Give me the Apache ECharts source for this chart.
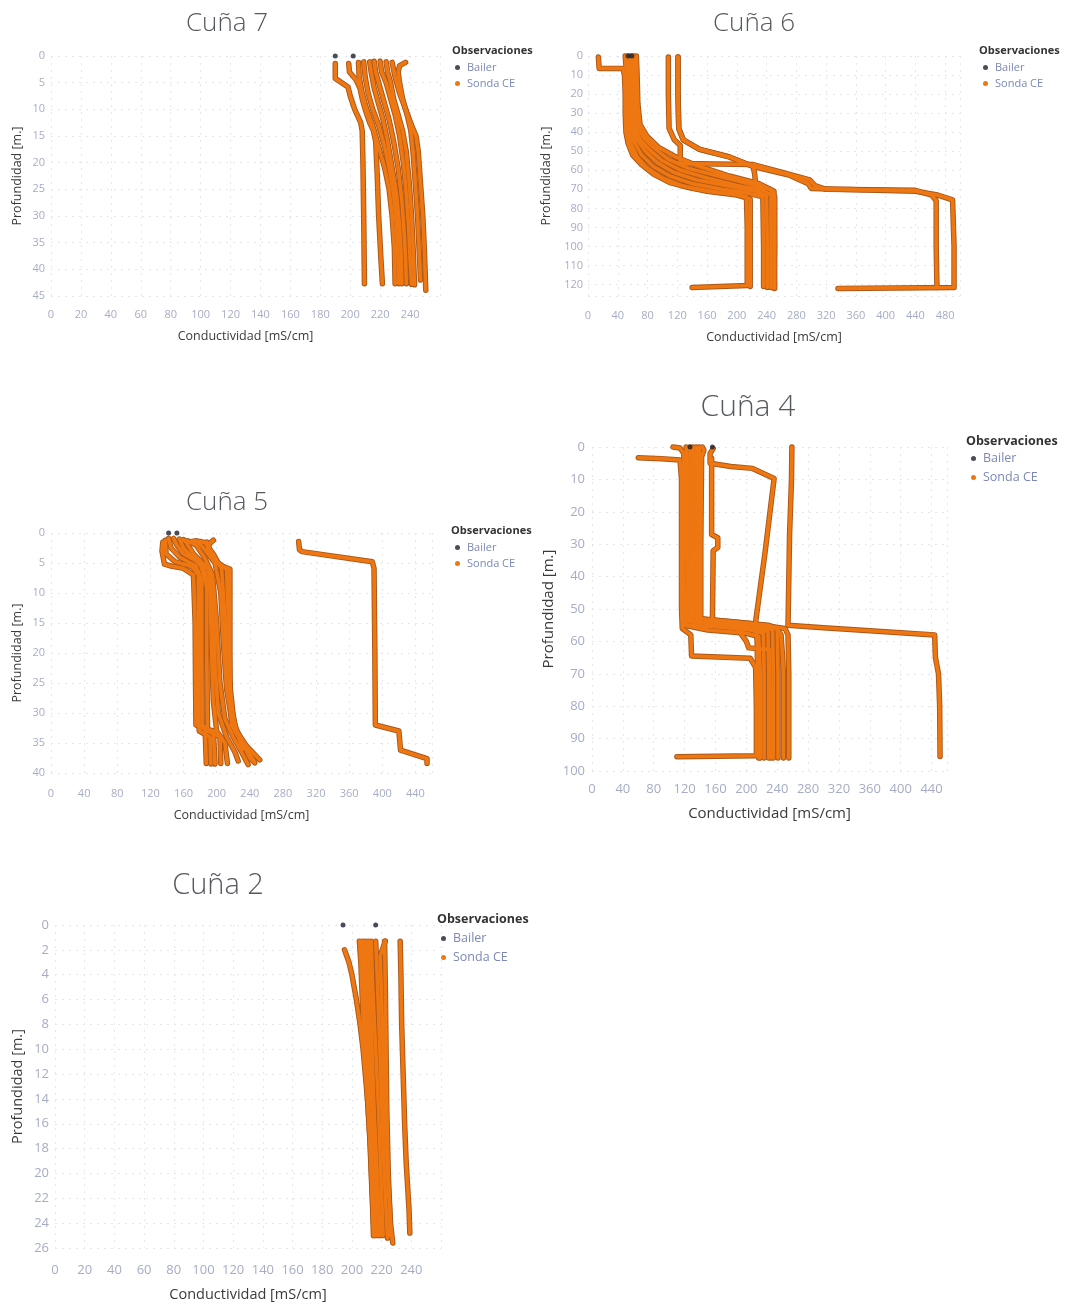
<!DOCTYPE html>
<html>
<head>
<meta charset="utf-8">
<script src="https://cdn.jsdelivr.net/npm/echarts@6/dist/echarts.min.js"></script>
<style>
  html, body { margin: 0; padding: 0; background: #ffffff; }
  #chart { width: 1065px; height: 1306px; }
</style>
</head>
<body>
<div id="chart"></div>
<script>
// Perfiles de conductividad eléctrica por cuña: cada perfil es una lista de
// pares [conductividad mS/cm, profundidad m].

// ---- Cuña 7 ----
const cuna7Bailer = [[190, 0], [202, 0]];
const cuna7Sonda = [
  [[190,1.4],[190,4.2],[198.5,5.8],[200,7.5],[203,10],[207,12.5],[208,14],[208.5,20],[209,30],[209.5,42.7]],
  [[199,1.4],[199.5,3],[204,4.5],[206.5,6],[208,8],[210,10],[213,12.5],[215.5,14],[217,16],[218,22],[219,30],[220.5,38],[221.5,42.7]],
  [[205.5,1.2],[206,4],[208,7],[211,10],[215,13],[219,17],[223,21],[226,25],[228,30],[229.5,36],[230,42.7]],
  [[209,1.1],[210,4],[212,7],[215,10],[219,13],[223,17],[226,21],[229,26],[231,32],[232,38],[232.5,42.7]],
  [[213,1.1],[214,3],[216,6],[219,9],[222,12],[225,16],[228,21],[231,26],[233,32],[234,37],[234.5,42.7]],
  [[216,1.0],[217,3],[220,6],[223,9],[226,12],[229,16],[232,21],[234.5,27],[236,33],[237,38],[237.5,42.7]],
  [[220,1.0],[221,3],[224,5],[227,8],[230,11],[233,15],[235.5,20],[237.5,26],[239,32],[240,38],[241,42.8]],
  [[224,1.1],[225,3],[227,5],[229,8],[232,11],[235,14],[237.5,18],[239.5,24],[241,30],[242,36],[243,42.9]],
  [[237,1.2],[233,1.8],[232,3],[233,5],[235,8],[238,11],[240.5,14],[242,18],[243.5,24],[245,30],[246,36],[247,42]],
  [[228,1.2],[230,4],[233,7],[237,10],[241,13],[244,15],[245.5,18],[247,24],[248.5,30],[249.5,36],[250.5,43.9]]
];

// ---- Cuña 6 ----
const cuna6Bailer = [[54, 0], [59, 0]];
const cuna6Sonda = [
  [[14,0.5],[15,6.5],[47,6.5],[49,10],[50,20],[50,30],[51,40],[54,46],[60,52],[72,57],[88,62],[110,66.5],[140,69.5],[175,71.5],[200,72.5],[213,74],[214,90],[214,110],[214,120.5],[140,121.5]],
  [[50,0],[52,10],[53,25],[54,38],[58,46],[66,53],[80,59],[100,64],[125,68],[160,71],[200,73],[218,75],[218,100],[218,121]],
  [[53,0],[55,10],[56,25],[58,38],[62,45],[72,52],[88,58],[110,63],[140,67],[180,70],[215,72],[235,74],[236,100],[236,121]],
  [[56,0],[58,10],[59,25],[61,38],[66,44],[77,50],[93,56],[115,61],[145,65],[185,68],[225,71],[240,73.5],[241,100],[241,121.5]],
  [[59,0],[61,10],[62,25],[64,38],[70,44],[82,49],[100,55],[125,60],[160,64],[200,68],[235,70.5],[246,73],[246,100],[246,121.5]],
  [[62,0],[64,10],[65,25],[67,37],[75,43],[88,48],[107,54],[135,59],[175,63],[215,67],[245,70],[251,74],[251,100],[250,122]],
  [[65,0],[66,10],[67,25],[70,36],[79,42],[95,48],[118,53],[150,58],[190,63],[230,67],[250,71],[251,122]],
  [[108,0.5],[108,20],[109,38],[116,44],[124,47],[124,56.5],[222,57],[260,61],[298,65],[305,68],[320,70],[440,70.5],[462,73],[468,76],[468,100],[469,121.5]],
  [[121,0.5],[121,20],[122,38],[128,44],[150,49],[190,53],[222,58],[224,62],[226,70]],
  [[121,0.5],[121,20],[122,38],[128,44],[150,49],[190,53],[222,58],[270,62.5],[296,67],[300,69.5],[440,71],[470,73],[490,75.5],[492,100],[492,121.5],[336,122]]
];

// ---- Cuña 5 ----
const cuna5Bailer = [[142, 0], [152, 0]];
const cuna5Sonda = [
  [[135,1.5],[134,3],[137,5.2],[145,5.5],[160,5.9],[172,7],[174,15],[174.5,25],[175,32],[186,32.3],[187,36.5],[187.5,38.4]],
  [[138,1.2],[139,3.5],[150,4.8],[170,5.6],[178,7],[178,20],[178.5,32],[179,33],[192,34],[193,38.5]],
  [[142,0.9],[145,2.5],[155,4],[175,5.5],[182,8],[182,20],[182.5,32.5],[196,33],[198,38.5]],
  [[148,0.9],[152,2],[160,3.5],[180,5],[188,9],[188,20],[189,33],[204,34],[205,38.4]],
  [[155,1.0],[160,2.5],[170,4],[185,6],[192,10],[194,20],[196,28],[200,33],[210,35],[213,38.4]],
  [[160,1.1],[163,1.5],[172,3.5],[190,6],[196,12],[198,22],[202,30],[212,34],[222,36.5],[226,38]],
  [[165,1.3],[175,2],[185,4],[195,7],[200,15],[204,25],[210,31],[220,34],[232,37],[238,38.6]],
  [[170,1.4],[176,1.3],[184,2.5],[198,5],[205,10],[208,18],[212,26],[218,31],[228,34],[240,37.5],[246,38.3]],
  [[180,1.4],[186,1.6],[196,3.5],[206,6],[210,14],[212,22],[216,28],[224,33],[236,35.5],[252,37.8]],
  [[188,1.5],[190,3],[200,5],[208,5.6],[216,6],[216,20],[216.5,28],[218,32],[226,34],[230,35.5],[232,36]],
  [[196,1.2],[191,1.8],[190,3],[200,4.8],[212,6],[214,14],[215,24],[222,33],[236,36],[245,38]],
  [[299,1.4],[300,2.8],[303,3.1],[388,4.8],[390,5.9],[391,20],[391.6,32],[420,33],[422,36.2],[454,37.6],[454,38.4]]
];

// ---- Cuña 4 ----
const cuna4Bailer = [[127, 0], [156, 0]];
const cuna4Sonda = [
  [[60,3.3],[90,3.6],[114,4],[116,10],[116,30],[116,50],[117,56],[128,58],[129,64.5],[180,65],[205,65.2],[212,68],[213,80],[213,95.3],[110,95.6]],
  [[105,0],[114,0.3],[119,2],[119,20],[119,40],[120,55],[150,56.5],[200,57.5],[216,58.5],[218,70],[218,96]],
  [[122,0],[123,5],[123,30],[124,55],[160,55.5],[205,56.5],[222,57.5],[223,70],[223,96]],
  [[127,0],[127,10],[127,30],[128,54],[165,54.8],[212,55.8],[228,57],[229,70],[229,96]],
  [[131,0],[131,10],[131,30],[132,53.5],[175,54.5],[220,55.5],[234,56.5],[235,70],[235,96]],
  [[135,0],[135,10],[135,30],[136,53],[185,54],[228,55],[240,56],[241,70],[241,96]],
  [[139,0],[139,10],[139,30],[139,53.5],[195,54.5],[238,55.8],[245,58],[247,65],[248,70],[248,96]],
  [[143,0],[145,1],[142,3],[141,30],[141,53],[205,54.5],[250,56],[254,58],[255,70],[255,96]],
  [[157,0.5],[153,2],[153,5],[180,6],[208,6.6],[236,9.7],[224,33],[212,54],[214,60],[216,96]],
  [[155,3.5],[155,27],[163,28],[163,31],[157,32],[156,54],[185,55],[200,60],[203,62],[230,62.5],[232,96]],
  [[259,0],[258.5,10],[256,27],[254,55],[300,55.8],[380,57],[444,58],[445,65],[449,70],[450.5,80],[451,95.5]]
];

// ---- Cuña 2 ----
const cuna2Bailer = [[194, 0], [216, 0]];
const cuna2Sonda = [
  [[195,2.0],[198,3],[200,4],[203,6],[205.5,8],[207.5,10],[209,12],[210.5,14],[212,17],[213,20],[214,23],[214.5,25]],
  [[205,1.3],[206,3],[207,6],[208,9],[209.5,12],[211,15],[212.5,18],[213.5,21],[215,25]],
  [[207,1.3],[208,4],[209,8],[210.5,12],[212,16],[214,20],[216,25]],
  [[209,1.3],[210,5],[211.5,10],[213,14],[215,18],[217,22],[218,25]],
  [[211,1.3],[212,5],[213.5,10],[215,15],[217,20],[219,25]],
  [[213,1.3],[214,5],[216,10],[218,15],[219.5,20],[221,25]],
  [[216,1.3],[217,4],[218.5,9],[220,14],[221.5,19],[223,23],[224,25.2]],
  [[222.5,1.3],[219,2.5],[220,6],[221,10],[222,14],[223,17],[224,20],[225,22],[226,24],[227.5,25.6]],
  [[222,1.3],[222.5,5],[223,10],[223.5,15],[224.5,20],[225.5,23],[226,25]],
  [[232.5,1.3],[233,4],[233.5,8],[234.5,12],[235.5,16],[236.5,19],[237.5,21],[238.5,23],[239,24.8]]
];

// ---- Disposición de los paneles ----
const panels = [
  { title: 'Cuña 7', sonda: cuna7Sonda, bailer: cuna7Bailer,
    box: { left: 51, top: 56, width: 389, height: 240 },
    xMax: 260, xInt: 20, yMax: 45, yInt: 5, yShowMax: true,
    titleX: 222, titleTop: 6, titleSize: 26,
    fs: 11, nameFs: 12.5, xMargin: 13, yMargin: 6, xGap: 34, yGap: 27,
    obs: { left: 447, top: 40, fs: 11 }, leg: { left: 450, top: 57, gap: 5 } },
  { title: 'Cuña 6', sonda: cuna6Sonda, bailer: cuna6Bailer,
    box: { left: 588, top: 56, width: 372, height: 240 },
    xMax: 500, xInt: 40, yMax: 126, yInt: 10, yShowMax: false,
    titleX: 749, titleTop: 6, titleSize: 26,
    fs: 11, nameFs: 12.5, xMargin: 14, yMargin: 5, xGap: 35, yGap: 35,
    obs: { left: 974, top: 40, fs: 11 }, leg: { left: 978, top: 57, gap: 5 } },
  { title: 'Cuña 5', sonda: cuna5Sonda, bailer: cuna5Bailer,
    box: { left: 51, top: 533, width: 381, height: 240 },
    xMax: 460, xInt: 40, yMax: 40, yInt: 5, yShowMax: true,
    titleX: 222, titleTop: 485, titleSize: 26,
    fs: 11, nameFs: 12.5, xMargin: 15, yMargin: 6, xGap: 36, yGap: 27,
    obs: { left: 446, top: 520, fs: 11 }, leg: { left: 450, top: 537, gap: 5 } },
  { title: 'Cuña 4', sonda: cuna4Sonda, bailer: cuna4Bailer,
    box: { left: 592, top: 447, width: 355, height: 324 },
    xMax: 460, xInt: 40, yMax: 100, yInt: 10, yShowMax: true,
    titleX: 743, titleTop: 387, titleSize: 30,
    fs: 13, nameFs: 15, xMargin: 12, yMargin: 7, xGap: 35, yGap: 36,
    obs: { left: 961, top: 430, fs: 12.5 }, leg: { left: 966, top: 447, gap: 6 } },
  { title: 'Cuña 2', sonda: cuna2Sonda, bailer: cuna2Bailer,
    box: { left: 55, top: 925, width: 386, height: 323 },
    xMax: 260, xInt: 20, yMax: 26, yInt: 2, yShowMax: true,
    titleX: 213, titleTop: 866, titleSize: 29,
    fs: 13, nameFs: 14.5, xMargin: 16, yMargin: 6, xGap: 39, yGap: 30,
    obs: { left: 432, top: 908, fs: 12.5 }, leg: { left: 436, top: 927, gap: 6 } }
];

const ORANGE = '#ef7712';
const EDGE = '#a9581a';
const BAILER = '#1c2030';
const TICK = '#a6acc6';
const LEGEND_TEXT = '#7d88b6';
const AXIS_NAME = '#3a3a3a';
const FONT = '"Open Sans", "Noto Sans", sans-serif';

const option = {
  animation: false,
  backgroundColor: '#ffffff',
  textStyle: { fontFamily: FONT },
  title: [], grid: [], xAxis: [], yAxis: [], legend: [], series: []
};

panels.forEach((p, i) => {
  option.title.push({
    text: p.title, left: p.titleX, top: p.titleTop, textAlign: 'center',
    textStyle: { fontFamily: FONT, fontSize: p.titleSize, fontWeight: 300, color: '#555a60' }
  });
  option.title.push({
    text: 'Observaciones', left: p.obs.left, top: p.obs.top,
    textStyle: { fontFamily: FONT, fontSize: p.obs.fs, fontWeight: 'bold', color: '#333333' }
  });
  option.grid.push(Object.assign({ containLabel: false }, p.box));
  option.xAxis.push({
    type: 'value', gridIndex: i, min: 0, max: p.xMax, interval: p.xInt,
    axisLine: { show: false }, axisTick: { show: false },
    axisLabel: { color: TICK, fontSize: p.fs, margin: p.xMargin, showMaxLabel: false, fontFamily: FONT },
    splitLine: { show: true, lineStyle: { color: '#e6e7ee', type: [2, 5], width: 1 } },
    name: 'Conductividad [mS/cm]', nameLocation: 'middle', nameGap: p.xGap,
    nameTextStyle: { color: AXIS_NAME, fontSize: p.nameFs, fontFamily: FONT }
  });
  option.yAxis.push({
    type: 'value', gridIndex: i, min: 0, max: p.yMax, interval: p.yInt, inverse: true,
    axisLine: { show: false }, axisTick: { show: false },
    axisLabel: { color: TICK, fontSize: p.fs, margin: p.yMargin, showMaxLabel: p.yShowMax, fontFamily: FONT },
    splitLine: { show: true, lineStyle: { color: '#e6e7ee', type: [2, 5], width: 1 } },
    name: 'Profundidad [m.]', nameLocation: 'middle', nameGap: p.yGap, nameRotate: 90,
    nameTextStyle: { color: AXIS_NAME, fontSize: p.nameFs, fontFamily: FONT }
  });
  option.legend.push({
    orient: 'vertical', left: p.leg.left, top: p.leg.top, itemGap: p.leg.gap,
    itemWidth: 5, itemHeight: 5, selectedMode: false,
    textStyle: { color: LEGEND_TEXT, fontSize: p.obs.fs, fontFamily: FONT, padding: [0, 0, 0, 2] },
    data: [
      { name: 'Bailer', icon: 'circle', itemStyle: { color: BAILER } },
      { name: 'Sonda CE', icon: 'circle', itemStyle: { color: ORANGE } }
    ]
  });

  // contorno oscuro de los perfiles (debajo)
  p.sonda.forEach(line => {
    option.series.push({
      name: 'Sonda CE', type: 'line', xAxisIndex: i, yAxisIndex: i, data: line,
      showSymbol: false, symbol: 'none', clip: false, silent: true, z: 1,
      lineStyle: { color: EDGE, width: 5.5, join: 'round', cap: 'round' }
    });
  });
  // perfiles en naranja (encima)
  p.sonda.forEach(line => {
    option.series.push({
      name: 'Sonda CE', type: 'line', xAxisIndex: i, yAxisIndex: i, data: line,
      showSymbol: false, symbol: 'none', clip: false, silent: true, z: 2,
      lineStyle: { color: ORANGE, width: 3.6, join: 'round', cap: 'round' }
    });
  });
  option.series.push({
    name: 'Bailer', type: 'scatter', xAxisIndex: i, yAxisIndex: i, data: p.bailer,
    symbol: 'circle', symbolSize: 5, clip: false, z: 3,
    itemStyle: { color: BAILER }
  });
});

const chart = echarts.init(document.getElementById('chart'), null, { renderer: 'canvas' });
chart.setOption(option);
</script>
</body>
</html>
